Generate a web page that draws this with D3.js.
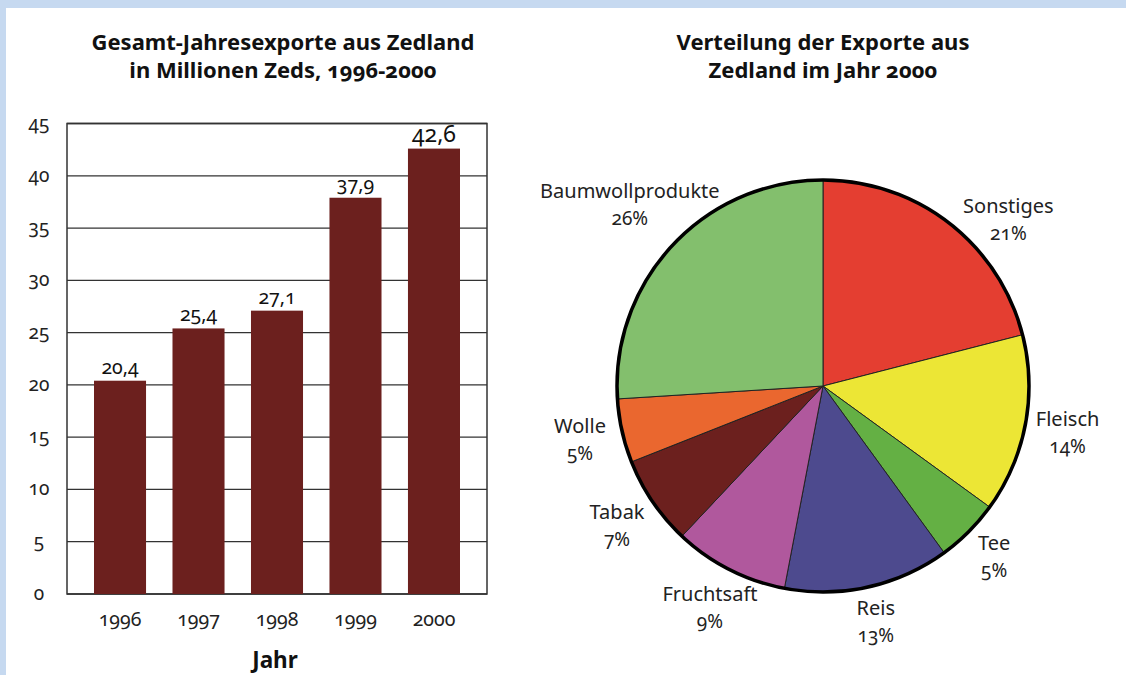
<!DOCTYPE html>
<html>
<head>
<meta charset="utf-8">
<script src="https://cdn.jsdelivr.net/npm/d3@7"></script>
<style>
  html, body { margin: 0; padding: 0; background: #c6d9f0; }
  svg { display: block; font-family: "Noto Sans", "Open Sans", sans-serif; font-variant-numeric: oldstyle-nums; }
  .title { font-weight: bold; font-size: 22px; fill: #111; }
</style>
</head>
<body>
<svg id="chart" width="1126" height="675"></svg>
<script>
// bar chart data
const years = ['1996', '1997', '1998', '1999', '2000']
const exports = [20.4, 25.4, 27.1, 37.9, 42.6]
const yTicks = [0, 5, 10, 15, 20, 25, 30, 35, 40, 45]

// pie chart data (clockwise from 12 o'clock)
const categories = ['Sonstiges', 'Fleisch', 'Tee', 'Reis', 'Fruchtsaft', 'Tabak', 'Wolle', 'Baumwollprodukte']
const shares = [21, 14, 5, 13, 9, 7, 5, 26]

const BAR_COLOR = '#6c201e'
const sliceColor = {
    'Sonstiges': '#e43e31',
    'Fleisch': '#ece635',
    'Tee': '#64b044',
    'Reis': '#4d4a8e',
    'Fruchtsaft': '#b0589d',
    'Tabak': '#6c201e',
    'Wolle': '#ea672f',
    'Baumwollprodukte': '#83bf6d'
}
// label tweaks so the longer labels clear the pie
const labelNudge = {
    'Sonstiges': {da: 0.18, dr: 0},
    'Baumwollprodukte': {da: 0, dr: 16},
    'Tee': {da: 0, dr: -7},
    'Reis': {da: 0, dr: -7}
}

const svg = d3.select('#chart')

// white panel inside the blue frame
svg.append('rect')
    .attr('x', 6).attr('y', 8)
    .attr('width', 1126).attr('height', 675)
    .attr('fill', '#fff')

// ---------- bar chart ----------
const plot = {left: 67, right: 487, top: 123.5, bottom: 594}

const x = d3.scaleBand()
    .domain(years)
    .range([plot.left, plot.right])
    .paddingInner(0.337)
    .paddingOuter(0.344)

const y = d3.scaleLinear()
    .domain([0, 45])
    .range([plot.bottom, plot.top])

const addTitle = (lines, cxT) => {
    lines.forEach((t, i) => {
        svg.append('text')
            .attr('class', 'title')
            .attr('text-anchor', 'middle')
            .attr('x', cxT)
            .attr('y', 50 + i * 27.5)
            .text(t)
    })
}
addTitle(['Gesamt-Jahresexporte aus Zedland', 'in Millionen Zeds, 1996-2000'], 283)

// gridlines
svg.append('g')
    .selectAll('line')
    .data(yTicks)
    .join('line')
    .attr('x1', plot.left).attr('x2', plot.right)
    .attr('y1', (d) => y(d)).attr('y2', (d) => y(d))
    .attr('stroke', '#333').attr('stroke-width', 1.3)

// frame
svg.append('rect')
    .attr('x', plot.left).attr('y', plot.top)
    .attr('width', plot.right - plot.left).attr('height', plot.bottom - plot.top)
    .attr('fill', 'none').attr('stroke', '#333').attr('stroke-width', 1.5)

// y tick labels
svg.append('g')
    .selectAll('text')
    .data(yTicks)
    .join('text')
    .attr('x', 39)
    .attr('y', (d) => y(d) + 6)
    .attr('text-anchor', 'middle')
    .attr('font-size', 19)
    .attr('fill', '#222')
    .text((d) => d)

// bars
svg.append('g')
    .selectAll('rect')
    .data(exports)
    .join('rect')
    .attr('x', (d, i) => x(years[i]))
    .attr('y', (d) => y(d))
    .attr('width', x.bandwidth())
    .attr('height', (d) => y(0) - y(d))
    .attr('fill', BAR_COLOR)

// value labels
const fmt = (v) => d3.format('.1f')(v).replace('.', ',')
svg.append('g')
    .selectAll('text')
    .data(exports)
    .join('text')
    .attr('x', (d, i) => x(years[i]) + x.bandwidth() / 2)
    .attr('y', (d) => y(d) - 7)
    .attr('text-anchor', 'middle')
    .attr('font-size', (d, i) => i === exports.length - 1 ? 23 : 19.5)
    .attr('fill', '#111')
    .text(fmt)

// x labels
svg.append('g')
    .selectAll('text')
    .data(years)
    .join('text')
    .attr('x', (d) => x(d) + x.bandwidth() / 2)
    .attr('y', 626)
    .attr('text-anchor', 'middle')
    .attr('font-size', 19.5)
    .attr('fill', '#222')
    .text((d) => d)

svg.append('text')
    .attr('x', (plot.left + plot.right) / 2 - 2)
    .attr('y', 668)
    .attr('text-anchor', 'middle')
    .attr('font-size', 22.5)
    .attr('font-weight', 'bold')
    .attr('fill', '#111')
    .text('Jahr')

// ---------- pie chart ----------
const cx = 823, cy = 386, R = 206

addTitle(['Verteilung der Exporte aus', 'Zedland im Jahr 2000'], cx)

const pie = d3.pie().sort(null).value((d) => d)
const arcs = pie(shares)
const arc = d3.arc().innerRadius(0).outerRadius(R)

const gPie = svg.append('g').attr('transform', `translate(${cx},${cy})`)

gPie.selectAll('path')
    .data(arcs)
    .join('path')
    .attr('d', arc)
    .attr('fill', (d, i) => sliceColor[categories[i]])
    .attr('stroke', '#222')
    .attr('stroke-width', 1)
    .attr('stroke-linejoin', 'round')

gPie.append('circle')
    .attr('r', R)
    .attr('fill', 'none')
    .attr('stroke', '#000')
    .attr('stroke-width', 3.5)

const labelR = 249
const labels = gPie.selectAll('g.lbl')
    .data(arcs)
    .join('g')
    .attr('class', 'lbl')
    .attr('transform', (d, i) => {
        const n = labelNudge[categories[i]] || {da: 0, dr: 0}
        const a = (d.startAngle + d.endAngle) / 2 + n.da
        const r = labelR + n.dr
        return `translate(${r * Math.sin(a)},${-r * Math.cos(a)})`
    })

labels.append('text')
    .attr('y', -7)
    .attr('text-anchor', 'middle')
    .attr('font-size', 20)
    .attr('fill', '#222')
    .text((d, i) => categories[i])

labels.append('text')
    .attr('y', 20)
    .attr('text-anchor', 'middle')
    .attr('font-size', 19)
    .attr('fill', '#222')
    .text((d) => d.data + '%')
</script>
</body>
</html>
